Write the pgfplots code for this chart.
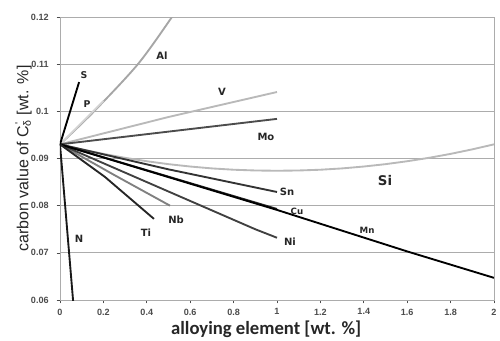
\documentclass[border=0pt]{standalone}
\usepackage{fontspec}
\setmainfont{DejaVu Sans}
\newfontfamily\labfont{Liberation Sans}
\newfontfamily\calfont{Carlito}
\usepackage{pgfplots}
\pgfplotsset{compat=1.18}
\begin{document}
\begin{tikzpicture}
\useasboundingbox (-45pt,-30pt) rectangle (330pt,225pt);
\begin{axis}[
  scale only axis, width=325.5pt, height=212.25pt,
  at={(0pt,0pt)}, anchor=south west,
  xmin=0, xmax=2, ymin=0.06, ymax=0.12,
  xtick={0,0.2,0.4,0.6,0.8,1,1.2,1.4,1.6,1.8,2},
  xticklabels={0,0.2,0.4,0.6,0.8,1,1.2,1.4,1.6,1.8,2},
  ytick={0.06,0.07,0.08,0.09,0.1,0.11,0.12},
  yticklabels={0.06,0.07,0.08,0.09,0.1,0.11,0.12},
  ymajorgrids, grid style={gray!65, line width=0.6pt},
  tick pos=left, tick align=outside, major tick length=2.5pt,
  tick style={black!70, line width=0.5pt},
  axis line style={gray!65, line width=0.6pt},
  ticklabel style={font=\labfont\bfseries\fontsize{6.8}{7.5}\selectfont, text=black!70},
  yticklabel style={xshift=-2.5pt},
  xticklabel style={yshift=-0.5pt},
  every axis x label/.style={at={(axis description cs:0.475,0)}, anchor=north, yshift=-15.5pt, inner sep=0pt, font=\calfont\bfseries\fontsize{14}{16}\selectfont, text=black!85},
  every axis y label/.style={at={(axis description cs:-0.1037,0.5)}, rotate=90, anchor=north, inner sep=0pt, font=\labfont\fontsize{12}{14}\selectfont, text=black!85},
  xlabel={alloying element [wt. \%]},
  ylabel={carbon value of C\rlap{\textsuperscript{\,'}}\textsubscript{δ} [wt. \%]},
  every axis plot/.append style={line width=1.4pt},
  clip=true,
]
% light lines
\addplot[gray!55] coordinates {(0,0.093) (0.1,0.09194) (0.2,0.09098) (0.3,0.09014) (0.4,0.08942) (0.5,0.0888) (0.6,0.0883) (0.7,0.0879) (0.8,0.08762) (0.9,0.08746) (1.0,0.0874) (1.1,0.08746) (1.2,0.08762) (1.3,0.0879) (1.4,0.0883) (1.5,0.0888) (1.6,0.08942) (1.7,0.09014) (1.8,0.09098) (1.9,0.09194) (2.0,0.0930)}; % Si
\addplot[gray!55] coordinates {(0,0.093) (0.5,0.0988) (1,0.1041)}; % V
\addplot[gray!70, smooth] coordinates {(0,0.093) (0.157,0.1) (0.359,0.11) (0.516,0.12) (0.6,0.1258)}; % Al
\addplot[gray!35] coordinates {(0,0.093) (0.2,0.1022)}; % P
\addplot[black!50] coordinates {(0,0.093) (0.25,0.0865) (0.507,0.080)}; % Nb
\addplot[black!70] coordinates {(0,0.093) (1,0.0984)}; % Mo
\addplot[black!75] coordinates {(0,0.093) (0.9,0.0750) (1,0.0732)}; % Ni
\addplot[black!80] coordinates {(0,0.093) (0.5,0.0877) (1,0.0829)}; % Sn
\addplot[black!85] coordinates {(0,0.093) (1,0.0793)}; % Cu
\addplot[black] coordinates {(0,0.093) (1,0.0791) (1.6,0.0703) (2,0.0647)}; % Mn
\addplot[black!85] coordinates {(0,0.093) (0.207,0.0861) (0.433,0.0772)}; % Ti
\addplot[black] coordinates {(0,0.093) (0.088,0.1062)}; % S
\addplot[black!90] coordinates {(0,0.093) (0.041,0.0705) (0.061,0.0595)}; % N
% labels
\begin{scope}[every node/.style={font=\bfseries\fontsize{7.5}{8}\selectfont, text=black!85, inner sep=0pt}]
\node at (axis cs:0.470,0.1117) {Al};
\node[font=\bfseries\fontsize{7}{8}\selectfont] at (axis cs:0.110,0.1076) {S};
\node[font=\bfseries\fontsize{7}{8}\selectfont] at (axis cs:0.125,0.1016) {P};
\node at (axis cs:0.747,0.1041) {V};
\node at (axis cs:0.949,0.0945) {Mo};
\node[font=\bfseries\fontsize{10}{11}\selectfont] at (axis cs:1.498,0.0853) {Si};
\node[font=\bfseries\fontsize{7.5}{8}\selectfont] at (axis cs:1.046,0.0829) {Sn};
\node[font=\bfseries\fontsize{6.5}{7}\selectfont] at (axis cs:1.092,0.0787) {Cu};
\node[font=\bfseries\fontsize{6.5}{7}\selectfont] at (axis cs:1.415,0.0747) {Mn};
\node at (axis cs:1.060,0.0723) {Ni};
\node at (axis cs:0.535,0.0770) {Nb};
\node at (axis cs:0.396,0.0742) {Ti};
\node at (axis cs:0.088,0.0730) {N};
\end{scope}
\end{axis}
\end{tikzpicture}
\end{document}
